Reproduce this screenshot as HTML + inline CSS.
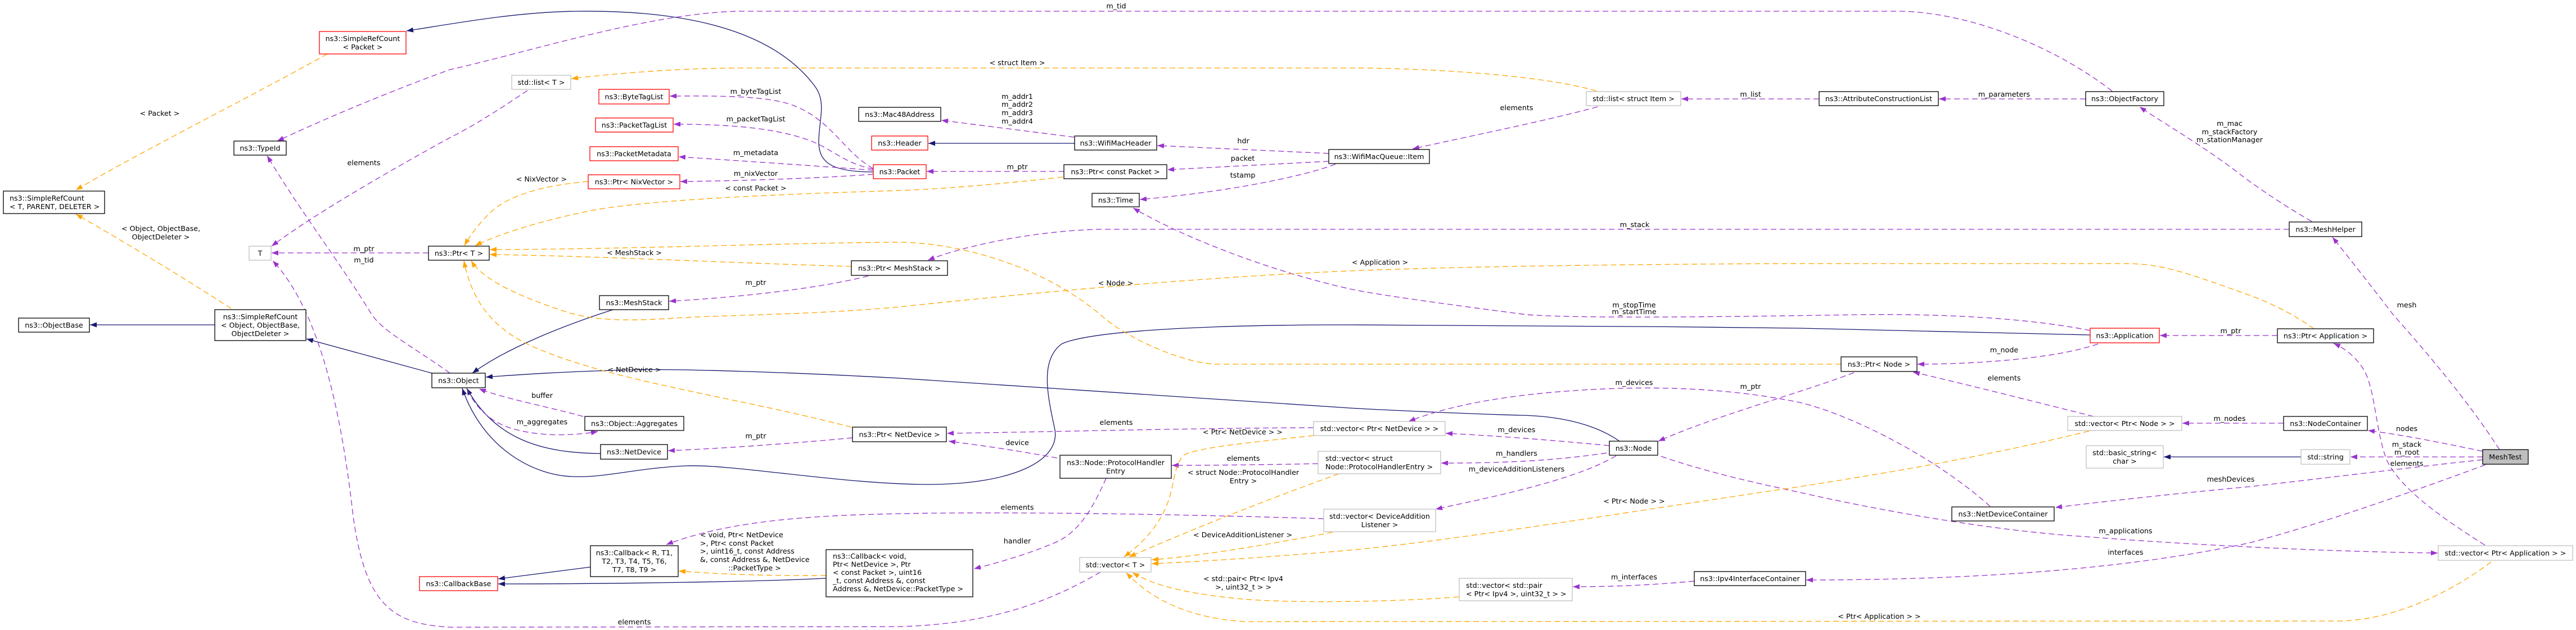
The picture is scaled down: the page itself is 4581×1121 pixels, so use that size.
<!DOCTYPE html>
<html><head><meta charset="utf-8"><style>
html,body{margin:0;padding:0;background:#fff;}
svg{display:block;}
text{font-family:"DejaVu Sans","Liberation Sans",sans-serif;font-size:12.7px;fill:#000;}
.n{fill:#fff;stroke:#000;stroke-width:1.3;}
.g{fill:#fff;stroke:#bfbfbf;stroke-width:1.3;}
.r{fill:#fff;stroke:#ff0000;stroke-width:1.3;}
.m{fill:#bfbfbf;stroke:#000;stroke-width:1.3;}
.p{fill:none;stroke:#9a32cd;stroke-width:1.3;stroke-dasharray:10,6;marker-end:url(#mp);}
.o{fill:none;stroke:#ffa500;stroke-width:1.3;stroke-dasharray:10,6;marker-end:url(#mo);}
.b{fill:none;stroke:#191970;stroke-width:1.3;marker-end:url(#mb);}
.c{text-anchor:middle;}
</style></head><body>
<svg width="4581" height="1121" viewBox="0 0 4581 1121" xmlns="http://www.w3.org/2000/svg">
<defs>
<marker id="mp" markerUnits="userSpaceOnUse" markerWidth="13" markerHeight="10" refX="12" refY="5" orient="auto" viewBox="0 0 13 10"><path d="M0,0.5 L12,5 L0,9.5 z" fill="#9a32cd"/></marker>
<marker id="mo" markerUnits="userSpaceOnUse" markerWidth="13" markerHeight="10" refX="12" refY="5" orient="auto" viewBox="0 0 13 10"><path d="M0,0.5 L12,5 L0,9.5 z" fill="#ffa500"/></marker>
<marker id="mb" markerUnits="userSpaceOnUse" markerWidth="13" markerHeight="10" refX="12" refY="5" orient="auto" viewBox="0 0 13 10"><path d="M0,0.5 L12,5 L0,9.5 z" fill="#191970"/></marker>
</defs>
<rect x="0" y="0" width="4581" height="1121" fill="#fff"/>

<!-- navy inheritance edges -->
<path class="b" d="M1553,306 C1480,306 1455,290 1456,250 C1457,210 1470,180 1448,152 C1380,62 1240,18 1030,20 C920,21 820,40 723,55"/>
<path class="b" d="M382,578 L160,578"/>
<path class="b" d="M768,664 L545,603"/>
<path class="b" d="M1090,551 C1000,580 900,620 840,664"/>
<path class="b" d="M1068,807 C960,806 880,780 830,691"/>
<path class="b" d="M3717,596 L3200,584 C2900,580 2500,578 2400,578 C2100,578 1930,592 1888,612 C1850,640 1862,700 1875,760 C1890,820 1800,862 1650,862 C1500,862 1300,825 1218,829 C1130,833 1080,850 1019,848 C950,846 860,800 822,691"/>
<path class="b" d="M2880,785 C2830,750 2760,740 2706,739 C2600,736 2450,729 2400,726 L1600,673 C1400,662 1200,656 1128,658 C1000,661 920,667 864,671"/>
<path class="b" d="M1911,255 L1651,255"/>
<path class="b" d="M1050,1009 L886,1030"/>
<path class="b" d="M1469,1029 C1350,1035 1100,1039 886,1039"/>
<path class="b" d="M4092,813 L3848,813"/>

<!-- purple usage edges -->
<path class="p" d="M3756,162 C3650,80 3500,22 3379,20 L1310,20 C1150,25 950,90 800,124 C700,160 580,210 493,251"/>
<path class="p" d="M800,664 C740,620 680,590 660,558 C600,460 530,370 475,277"/>
<path class="p" d="M762,450 L483,450"/>
<path class="p" d="M938,161 C880,200 840,225 800,245 C700,300 560,380 483,438"/>
<path class="p" d="M1957,1018 C1850,1080 1750,1110 1600,1115 L800,1116 C700,1110 650,1080 628,918 C610,760 575,560 485,464"/>
<path class="p" d="M1553,300 C1500,270 1480,215 1412,188 C1370,172 1300,170 1191,171"/>
<path class="p" d="M1553,301 C1500,290 1480,265 1440,250 C1380,228 1300,221 1198,221"/>
<path class="p" d="M1553,303 C1450,295 1300,285 1207,279"/>
<path class="p" d="M1553,310 C1450,318 1300,322 1210,323"/>
<path class="p" d="M1892,305 L1648,305"/>
<path class="p" d="M1910,244 L1674,214"/>
<path class="p" d="M2363,273 L2058,259"/>
<path class="p" d="M2363,287 L2076,302"/>
<path class="p" d="M2375,292 C2330,310 2200,340 2027,355"/>
<path class="p" d="M2841,190 C2750,215 2600,245 2512,265"/>
<path class="p" d="M3235,176 L2990,176"/>
<path class="p" d="M3709,176 L3448,176"/>
<path class="p" d="M4111,394 C4060,365 4010,330 3990,315 C3920,260 3840,215 3805,190"/>
<path class="p" d="M4071,408 L1957,408 C1850,410 1720,435 1650,463"/>
<path class="p" d="M1544,491 C1450,515 1300,530 1190,536"/>
<path class="p" d="M3717,588 C3600,565 3450,558 3300,560 C3000,565 2800,566 2716,560 C2600,545 2450,525 2400,514 C2250,480 2100,420 2015,370"/>
<path class="p" d="M3731,612 C3650,640 3500,648 3410,648"/>
<path class="p" d="M3297,663 C3200,700 3050,740 2949,785"/>
<path class="p" d="M4050,597 L3841,597"/>
<path class="p" d="M3723,741 C3600,710 3480,680 3402,662"/>
<path class="p" d="M4061,753 L3881,753"/>
<path class="p" d="M3539,901 C3450,820 3300,740 3200,716 C3050,685 2900,688 2800,695 C2650,705 2560,728 2505,750"/>
<path class="p" d="M2862,793 C2750,782 2650,775 2571,771"/>
<path class="p" d="M2857,806 C2750,822 2650,824 2563,824"/>
<path class="p" d="M2874,811 C2800,855 2650,885 2553,906"/>
<path class="p" d="M2954,812 C3050,845 3150,865 3200,876 C3350,910 3550,945 3710,955 C3900,970 4150,982 4335,984"/>
<path class="p" d="M4445,800 C4380,700 4300,610 4256,560 C4210,500 4170,450 4148,422"/>
<path class="p" d="M4415,803 C4330,785 4260,772 4211,766"/>
<path class="p" d="M4415,813 L4180,813"/>
<path class="p" d="M4419,970 C4340,920 4270,870 4245,820 C4225,770 4225,700 4205,660 C4190,635 4170,620 4150,611"/>
<path class="p" d="M4415,818 C4300,830 4100,855 4000,866 C3850,880 3720,895 3655,903"/>
<path class="p" d="M4420,827 C4250,890 4100,940 4000,966 C3750,1020 3450,1032 3212,1032"/>
<path class="p" d="M3013,1034 C2950,1040 2880,1044 2797,1044"/>
<path class="p" d="M1516,779 C1400,790 1280,798 1188,802"/>
<path class="p" d="M2336,761 C2100,762 1900,768 1684,771"/>
<path class="p" d="M1880,815 C1800,800 1740,792 1687,785"/>
<path class="p" d="M2344,825 C2250,827 2150,828 2084,828"/>
<path class="p" d="M2354,923 C2100,915 1800,910 1600,914 C1450,917 1300,925 1185,969"/>
<path class="p" d="M1967,851 C1945,900 1920,950 1870,968 C1830,985 1780,1000 1732,1012"/>
<path class="p" d="M1037,741 C980,725 900,710 852,692"/>
<path class="p" d="M831,694 C860,750 900,765 960,772 C1000,776 1040,772 1063,768"/>

<!-- orange template edges -->
<path class="o" d="M582,96 C450,170 250,270 135,338"/>
<path class="o" d="M411,549 C320,490 220,430 135,381"/>
<path class="o" d="M2839,162 C2750,135 2550,121 2400,121 L1310,121 C1200,122 1100,130 1016,140"/>
<path class="o" d="M1046,323 C960,330 900,350 870,380 C850,400 835,420 826,437"/>
<path class="o" d="M1890,315 C1800,325 1700,335 1600,339 C1400,345 1150,355 1050,375 C950,395 880,420 845,437"/>
<path class="o" d="M1514,474 C1300,468 1050,455 871,453"/>
<path class="o" d="M3274,648 L2161,648 C2100,645 2000,600 1957,560 C1850,470 1700,432 1600,431 C1400,432 1100,444 871,444"/>
<path class="o" d="M4115,585 C4080,560 4040,540 4000,525 C3900,490 3850,469 3780,469 L3200,469 C2900,470 2600,474 2400,482 C2100,495 1800,525 1600,546 C1450,560 1300,560 1200,566 C1100,573 1050,568 1010,556 C930,530 860,500 838,464"/>
<path class="o" d="M1514,760 C1300,705 1100,680 960,622 C880,590 840,540 825,464"/>
<path class="o" d="M2336,775 C2250,785 2130,795 2105,810 C2085,830 2090,870 2070,910 C2050,950 2020,975 1999,991"/>
<path class="o" d="M2381,843 C2250,890 2100,950 2008,991"/>
<path class="o" d="M2370,947 C2250,970 2130,990 2048,996"/>
<path class="o" d="M3715,767 C3500,820 3300,850 3200,866 C2900,910 2600,960 2400,979 C2250,992 2120,1000 2048,1003"/>
<path class="o" d="M2594,1062 C2500,1070 2300,1075 2200,1065 C2100,1055 2050,1040 2014,1019"/>
<path class="o" d="M4430,1000 C4350,1060 4250,1104 4159,1105 L2212,1106 C2120,1100 2050,1070 2003,1019"/>
<path class="o" d="M1469,1024 C1380,1025 1280,1022 1207,1016"/>

<!-- edge labels -->
<g class="c">
<text x="284" y="206">&lt; Packet &gt;</text>
<text x="286" y="411">&lt; Object, ObjectBase,</text>
<text x="286" y="426">ObjectDeleter &gt;</text>
<text x="647" y="294">elements</text>
<text x="647" y="447">m_ptr</text>
<text x="647" y="467">m_tid</text>
<text x="1985" y="15">m_tid</text>
<text x="1809" y="116">&lt; struct Item &gt;</text>
<text x="1344" y="167">m_byteTagList</text>
<text x="1344" y="216">m_packetTagList</text>
<text x="1344" y="276">m_metadata</text>
<text x="1344" y="313">m_nixVector</text>
<text x="963" y="323">&lt; NixVector &gt;</text>
<text x="1344" y="339">&lt; const Packet &gt;</text>
<text x="1128" y="454">&lt; MeshStack &gt;</text>
<text x="1344" y="507">m_ptr</text>
<text x="1128" y="662">&lt; NetDevice &gt;</text>
<text x="964" y="708">buffer</text>
<text x="964" y="755">m_aggregates</text>
<text x="1344" y="780">m_ptr</text>
<text x="1342" y="1015">::PacketType &gt;</text>
<text x="1128" y="1111">elements</text>
<text x="1809" y="176">m_addr1</text>
<text x="1809" y="190">m_addr2</text>
<text x="1809" y="205">m_addr3</text>
<text x="1809" y="220">m_addr4</text>
<text x="1809" y="301">m_ptr</text>
<text x="2211" y="255">hdr</text>
<text x="2210" y="286">packet</text>
<text x="2210" y="316">tstamp</text>
<text x="1984" y="508">&lt; Node &gt;</text>
<text x="1985" y="756">elements</text>
<text x="2210" y="773">&lt; Ptr&lt; NetDevice &gt; &gt;</text>
<text x="1809" y="792">device</text>
<text x="2211" y="820">elements</text>
<text x="2211" y="845">&lt; struct Node::ProtocolHandler</text>
<text x="2211" y="860">Entry &gt;</text>
<text x="1809" y="907">elements</text>
<text x="1809" y="967">handler</text>
<text x="2210" y="956">&lt; DeviceAdditionListener &gt;</text>
<text x="2211" y="1034">&lt; std::pair&lt; Ptr&lt; Ipv4</text>
<text x="2211" y="1049">&gt;, uint32_t &gt; &gt;</text>
<text x="2697" y="196">elements</text>
<text x="3113" y="172">m_list</text>
<text x="2907" y="404">m_stack</text>
<text x="2454" y="471">&lt; Application &gt;</text>
<text x="2906" y="547">m_stopTime</text>
<text x="2906" y="559">m_startTime</text>
<text x="2906" y="685">m_devices</text>
<text x="3113" y="692">m_ptr</text>
<text x="2697" y="769">m_devices</text>
<text x="2697" y="811">m_handlers</text>
<text x="2697" y="839">m_deviceAdditionListeners</text>
<text x="2906" y="896">&lt; Ptr&lt; Node &gt; &gt;</text>
<text x="2906" y="1031">m_interfaces</text>
<text x="3564" y="172">m_parameters</text>
<text x="3965" y="224">m_mac</text>
<text x="3965" y="239">m_stackFactory</text>
<text x="3965" y="253">m_stationManager</text>
<text x="3967" y="593">m_ptr</text>
<text x="3564" y="627">m_node</text>
<text x="3564" y="677">elements</text>
<text x="3965" y="749">m_nodes</text>
<text x="3967" y="857">meshDevices</text>
<text x="3780" y="949">m_applications</text>
<text x="3780" y="987">interfaces</text>
<text x="3342" y="1101">&lt; Ptr&lt; Application &gt; &gt;</text>
<text x="4280" y="547">mesh</text>
<text x="4280" y="767">nodes</text>
<text x="4280" y="795">m_stack</text>
<text x="4280" y="809">m_root</text>
<text x="4280" y="829">elements</text>
</g>
<text x="1245" y="956">&lt; void, Ptr&lt; NetDevice</text>
<text x="1245" y="971">&gt;, Ptr&lt; const Packet</text>
<text x="1245" y="985">&gt;, uint16_t, const Address</text>
<text x="1245" y="1000">&amp;, const Address &amp;, NetDevice</text>

<!-- nodes -->
<rect class="r" x="568" y="56" width="154" height="40"/>
<text class="c" x="645" y="73">ns3::SimpleRefCount</text><text class="c" x="645" y="88">&lt; Packet &gt;</text>
<rect class="n" x="416" y="251" width="93" height="25"/><text class="c" x="462.5" y="268">ns3::TypeId</text>
<rect class="n" x="6" y="340" width="180" height="40"/>
<text x="17" y="357">ns3::SimpleRefCount</text><text x="17" y="372">&lt; T, PARENT, DELETER &gt;</text>
<rect class="g" x="443" y="438" width="39" height="25"/><text class="c" x="462.5" y="455">T</text>
<rect class="n" x="762" y="438" width="108" height="25"/><text class="c" x="816" y="455">ns3::Ptr&lt; T &gt;</text>
<rect class="n" x="33" y="566" width="126" height="25"/><text class="c" x="96" y="583">ns3::ObjectBase</text>
<rect class="n" x="382" y="551" width="162" height="55"/>
<text class="c" x="463" y="568">ns3::SimpleRefCount</text><text class="c" x="463" y="583">&lt; Object, ObjectBase,</text><text class="c" x="463" y="598">ObjectDeleter &gt;</text>
<rect class="n" x="768" y="664" width="95" height="26"/><text class="c" x="815.5" y="681.5">ns3::Object</text>
<rect class="r" x="746" y="1026" width="139" height="25"/><text class="c" x="815.5" y="1043">ns3::CallbackBase</text>
<rect class="g" x="910" y="134" width="105" height="25"/><text class="c" x="962.5" y="151">std::list&lt; T &gt;</text>
<rect class="r" x="1065" y="159" width="125" height="26"/><text class="c" x="1127.5" y="176.5">ns3::ByteTagList</text>
<rect class="r" x="1059" y="210" width="138" height="25"/><text class="c" x="1128" y="227">ns3::PacketTagList</text>
<rect class="r" x="1049" y="261" width="157" height="25"/><text class="c" x="1127.5" y="278">ns3::PacketMetadata</text>
<rect class="r" x="1046" y="311" width="163" height="25"/><text class="c" x="1127.5" y="328">ns3::Ptr&lt; NixVector &gt;</text>
<rect class="n" x="1066" y="526" width="123" height="25"/><text class="c" x="1127.5" y="543">ns3::MeshStack</text>
<rect class="n" x="1040" y="741" width="176" height="25"/><text class="c" x="1128" y="758">ns3::Object::Aggregates</text>
<rect class="n" x="1068" y="791" width="119" height="26"/><text class="c" x="1127.5" y="808.5">ns3::NetDevice</text>
<rect class="n" x="1050" y="971" width="156" height="55"/>
<text class="c" x="1128" y="988">ns3::Callback&lt; R, T1,</text><text class="c" x="1128" y="1003">T2, T3, T4, T5, T6,</text><text class="c" x="1128" y="1018">T7, T8, T9 &gt;</text>
<rect class="n" x="1527" y="191" width="146" height="25"/><text class="c" x="1600" y="208">ns3::Mac48Address</text>
<rect class="r" x="1550" y="242" width="100" height="25"/><text class="c" x="1600" y="259">ns3::Header</text>
<rect class="r" x="1553" y="293" width="94" height="25"/><text class="c" x="1600" y="310">ns3::Packet</text>
<rect class="n" x="1514" y="464" width="171" height="26"/><text class="c" x="1599.5" y="481.5">ns3::Ptr&lt; MeshStack &gt;</text>
<rect class="n" x="1516" y="760" width="167" height="26"/><text class="c" x="1599.5" y="777.5">ns3::Ptr&lt; NetDevice &gt;</text>
<rect class="n" x="1469" y="978" width="261" height="84"/>
<text x="1481" y="994">ns3::Callback&lt; void,</text><text x="1481" y="1008.5">Ptr&lt; NetDevice &gt;, Ptr</text><text x="1481" y="1023">&lt; const Packet &gt;, uint16</text><text x="1481" y="1037.5">_t, const Address &amp;, const</text><text x="1481" y="1052">Address &amp;, NetDevice::PacketType &gt;</text>
<rect class="n" x="1911" y="242" width="146" height="25"/><text class="c" x="1984" y="259">ns3::WifiMacHeader</text>
<rect class="n" x="1892" y="293" width="183" height="25"/><text class="c" x="1983.5" y="310">ns3::Ptr&lt; const Packet &gt;</text>
<rect class="n" x="1942" y="344" width="84" height="24"/><text class="c" x="1984" y="360.5">ns3::Time</text>
<rect class="n" x="1885" y="810" width="198" height="41"/>
<text class="c" x="1984" y="827.5">ns3::Node::ProtocolHandler</text><text class="c" x="1984" y="842.5">Entry</text>
<rect class="g" x="1920" y="992" width="127" height="26"/><text class="c" x="1983.5" y="1009.5">std::vector&lt; T &gt;</text>
<rect class="n" x="2363" y="266" width="179" height="25"/><text class="c" x="2452.5" y="283">ns3::WifiMacQueue::Item</text>
<rect class="g" x="2336" y="750" width="234" height="25"/><text class="c" x="2453" y="767">std::vector&lt; Ptr&lt; NetDevice &gt; &gt;</text>
<rect class="g" x="2344" y="803" width="218" height="40"/>
<text x="2357" y="820">std::vector&lt; struct</text><text x="2357" y="835">Node::ProtocolHandlerEntry &gt;</text>
<rect class="g" x="2354" y="906" width="199" height="40"/>
<text class="c" x="2453.5" y="923">std::vector&lt; DeviceAddition</text><text class="c" x="2453.5" y="938">Listener &gt;</text>
<rect class="g" x="2821" y="163" width="168" height="25"/><text class="c" x="2905" y="180">std::list&lt; struct Item &gt;</text>
<rect class="n" x="2862" y="785" width="86" height="25"/><text class="c" x="2905" y="802">ns3::Node</text>
<rect class="g" x="2595" y="1029" width="201" height="40"/>
<text x="2607" y="1046">std::vector&lt; std::pair</text><text x="2607" y="1061">&lt; Ptr&lt; Ipv4 &gt;, uint32_t &gt; &gt;</text>
<rect class="n" x="3235" y="163" width="212" height="25"/><text class="c" x="3341" y="180">ns3::AttributeConstructionList</text>
<rect class="n" x="3709" y="163" width="139" height="25"/><text class="c" x="3778.5" y="180">ns3::ObjectFactory</text>
<rect class="n" x="3013" y="1017" width="198" height="25"/><text class="c" x="3112" y="1034">ns3::Ipv4InterfaceContainer</text>
<rect class="r" x="3717" y="584" width="123" height="26"/><text class="c" x="3778.5" y="601.5">ns3::Application</text>
<rect class="n" x="3274" y="635" width="135" height="26"/><text class="c" x="3341.5" y="652.5">ns3::Ptr&lt; Node &gt;</text>
<rect class="g" x="3677" y="741" width="203" height="25"/><text class="c" x="3778.5" y="758">std::vector&lt; Ptr&lt; Node &gt; &gt;</text>
<rect class="g" x="3710" y="793" width="137" height="40"/>
<text class="c" x="3778.5" y="810">std::basic_string&lt;</text><text class="c" x="3778.5" y="825">char &gt;</text>
<rect class="n" x="3471" y="902" width="182" height="25"/><text class="c" x="3562" y="919">ns3::NetDeviceContainer</text>
<rect class="n" x="4071" y="395" width="129" height="26"/><text class="c" x="4135.5" y="412.5">ns3::MeshHelper</text>
<rect class="n" x="4050" y="585" width="171" height="25"/><text class="c" x="4135.5" y="602">ns3::Ptr&lt; Application &gt;</text>
<rect class="n" x="4061" y="741" width="149" height="25"/><text class="c" x="4135.5" y="758">ns3::NodeContainer</text>
<rect class="g" x="4092" y="800" width="87" height="26"/><text class="c" x="4135.5" y="817.5">std::string</text>
<rect class="m" x="4415" y="800" width="81" height="26"/><text class="c" x="4455.5" y="817.5">MeshTest</text>
<rect class="g" x="4336" y="971" width="239" height="26"/><text class="c" x="4455.5" y="988.5">std::vector&lt; Ptr&lt; Application &gt; &gt;</text>
</svg>
</body></html>
